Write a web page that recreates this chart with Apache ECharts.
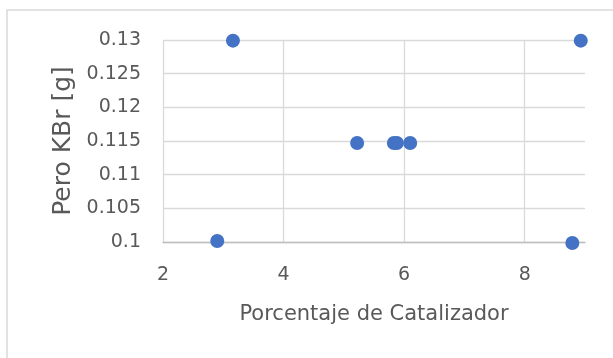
<!DOCTYPE html>
<html>
<head>
<meta charset="utf-8">
<script src="https://cdn.jsdelivr.net/npm/echarts@6/dist/echarts.min.js"></script>
<style>
  html, body { margin: 0; padding: 0; background: #fff; }
  #chart { width: 613px; height: 358px; }
</style>
</head>
<body>
<div id="chart"></div>
<script>
// catalyst % vs KBr weight
const porcentaje = [3.16, 2.9, 8.93, 8.79, 5.22, 5.83, 5.88, 6.1]
const peso = [0.1299, 0.10015, 0.1299, 0.09985, 0.1147, 0.1147, 0.1147, 0.1147]

const points = porcentaje.map((x, i) => [x, peso[i]])

const textColor = '#595959'
const font = 'DejaVu Sans'

const chart = echarts.init(document.getElementById('chart'))
chart.setOption({
  animation: false,
  graphic: [{
    type: 'rect',
    shape: { x: 7, y: 10, width: 620, height: 360 },
    style: { fill: 'none', stroke: '#d9d9d9', lineWidth: 1.5 },
  }],
  grid: { left: 163, top: 40, right: 28, bottom: 116 },
  xAxis: {
    type: 'value',
    min: 2,
    max: 9,
    interval: 2,
    name: 'Porcentaje de Catalizador',
    nameLocation: 'middle',
    nameGap: 62,
    nameTextStyle: { color: textColor, fontSize: 21, fontFamily: font },
    axisLine: { show: true, lineStyle: { color: '#bfbfbf', width: 1.3 } },
    axisTick: { show: false },
    axisLabel: {
      color: textColor, fontSize: 19, fontFamily: font, margin: 24,
      showMaxLabel: false,
    },
    splitLine: { show: true, showMinLine: true, showMaxLine: false, lineStyle: { color: '#d9d9d9', width: 1.3 } },
  },
  yAxis: {
    type: 'value',
    min: 0.1,
    max: 0.13,
    interval: 0.005,
    name: 'Pero KBr [g]',
    nameLocation: 'middle',
    nameRotate: 90,
    nameGap: 87,
    nameTextStyle: { color: textColor, fontSize: 25, fontFamily: font },
    axisLine: { show: false },
    axisTick: { show: false },
    axisLabel: { color: textColor, fontSize: 19, fontFamily: font, margin: 22 },
    splitLine: { lineStyle: { color: '#d9d9d9', width: 1.3 } },
  },
  series: [{
    type: 'scatter',
    data: points,
    symbolSize: 14,
    clip: false,
    itemStyle: { color: '#4472C4', opacity: 1 },
  }],
})
</script>
</body>
</html>
